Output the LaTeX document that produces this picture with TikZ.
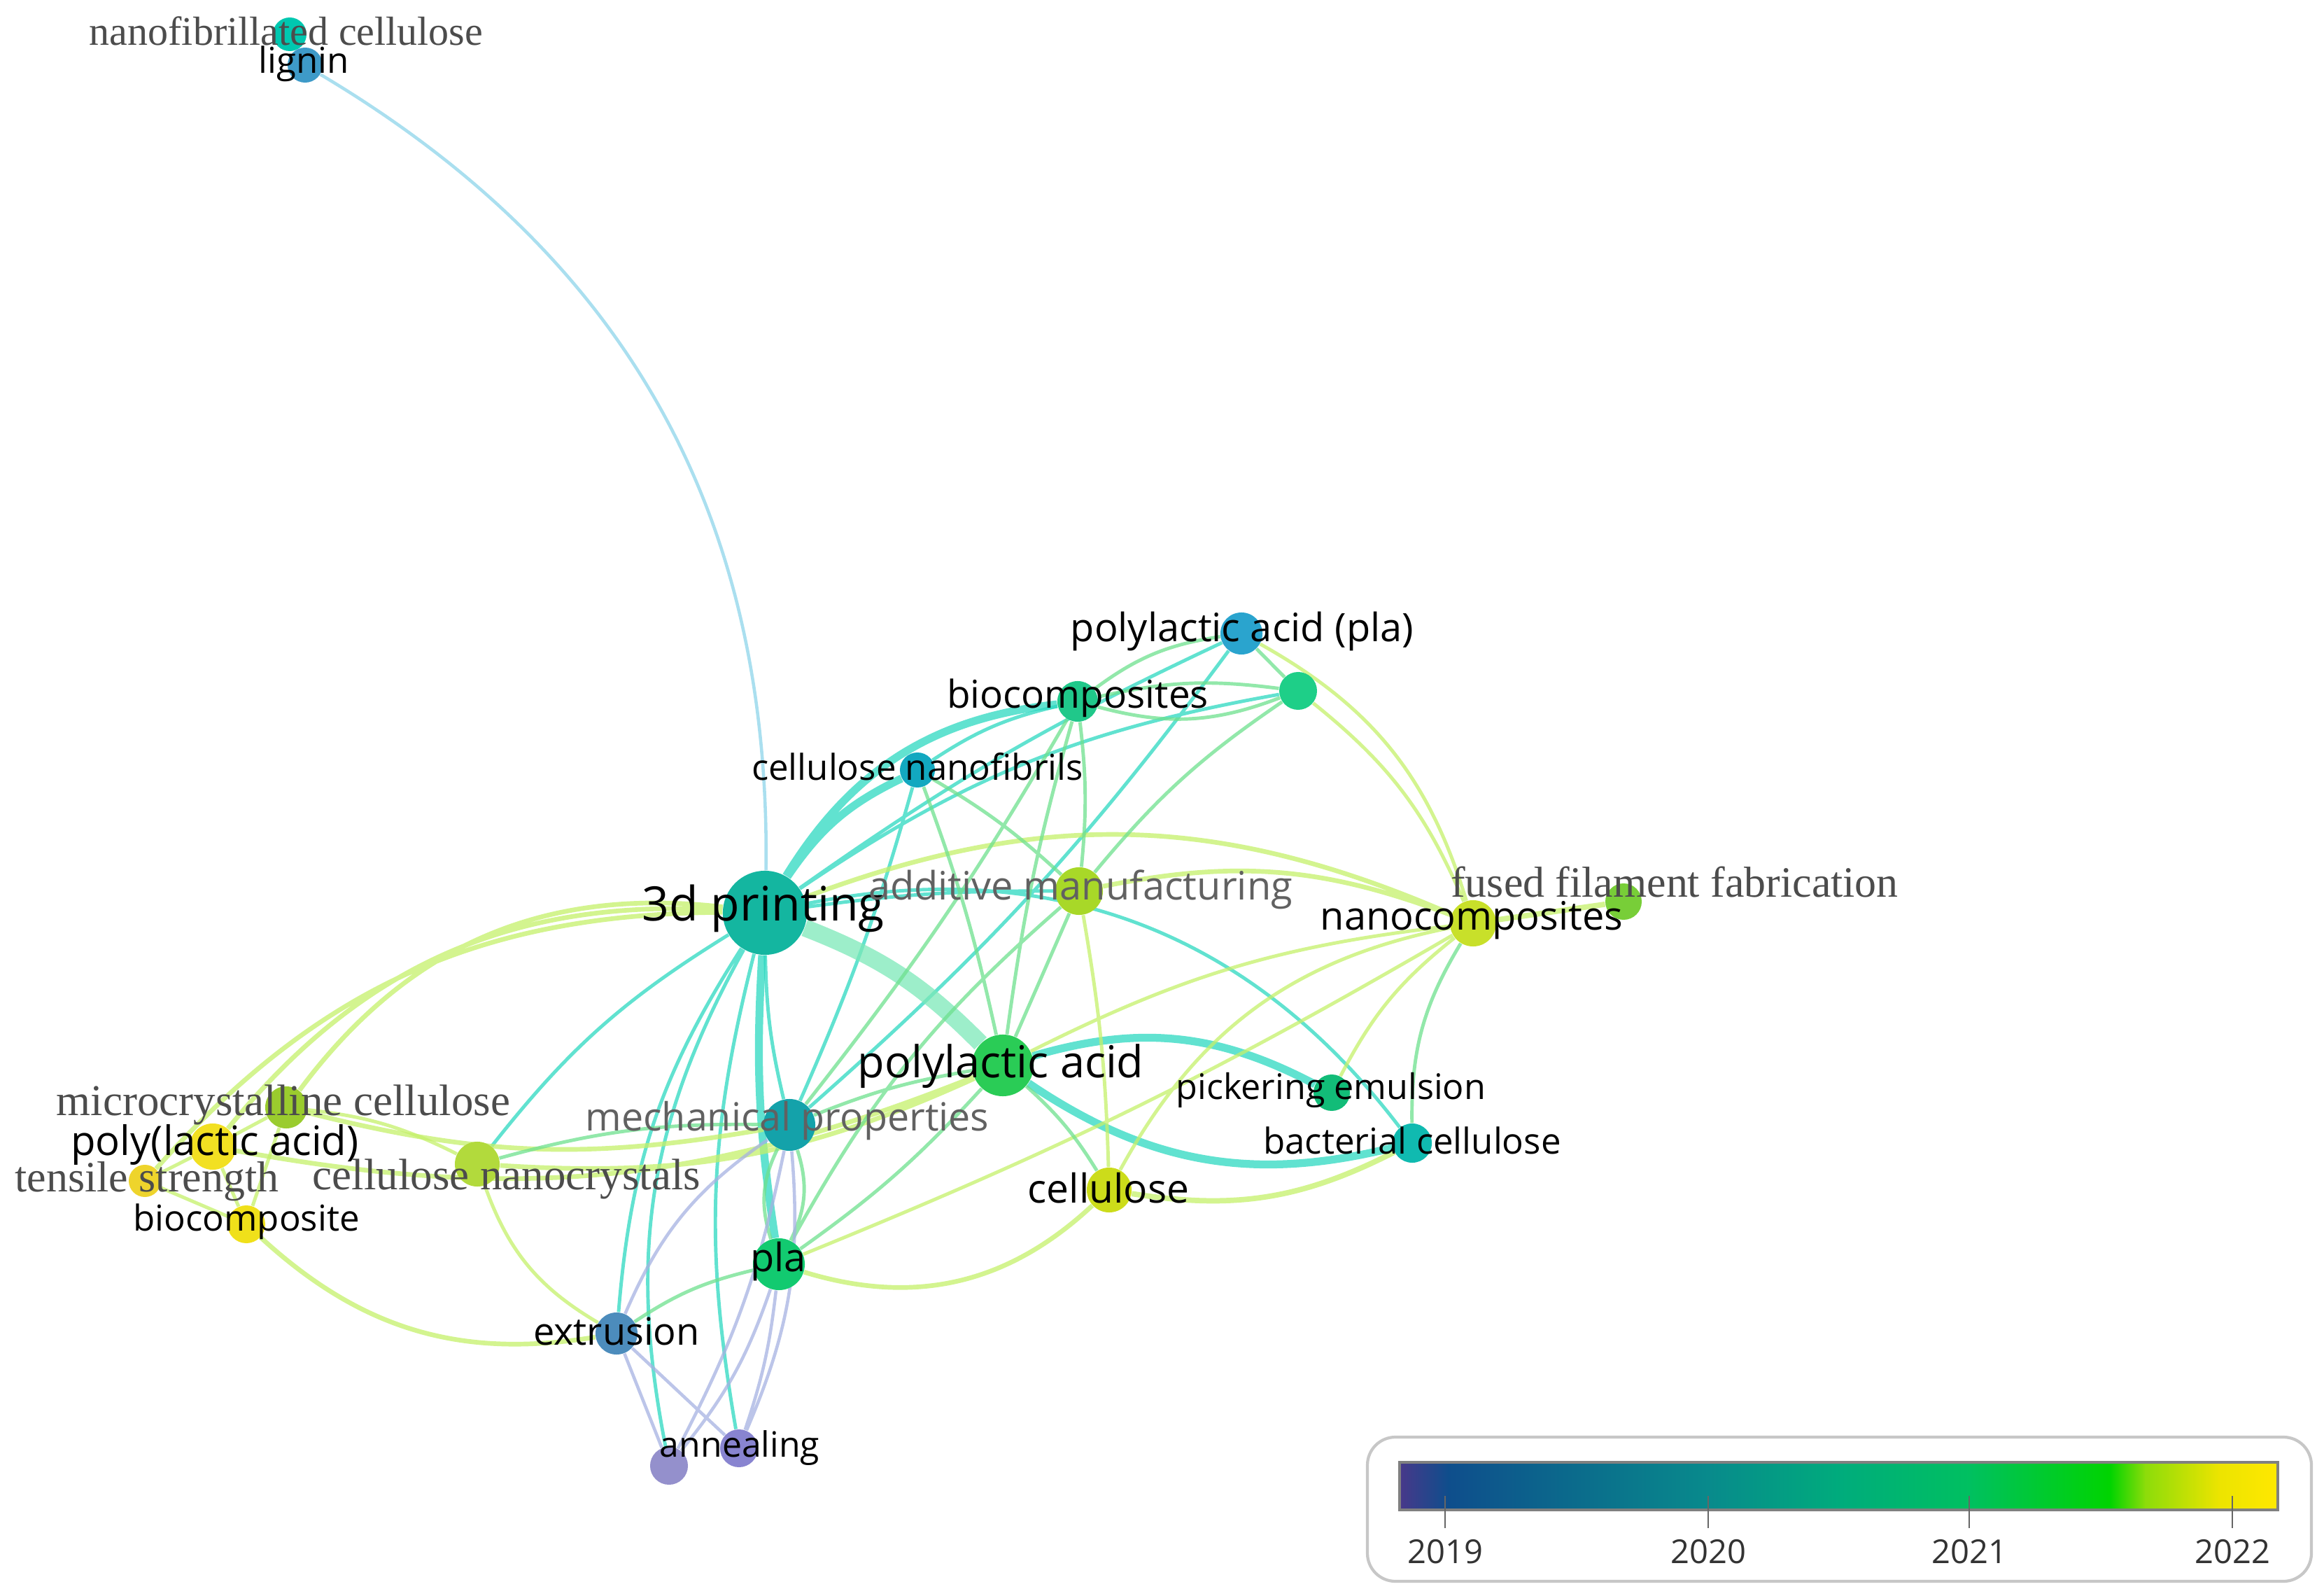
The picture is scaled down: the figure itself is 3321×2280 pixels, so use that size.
\documentclass[tikz,border=0pt]{standalone}
\usepackage{fontspec}
\setmainfont{Open Sans}
\newfontfamily\serifkw{Liberation Serif}
\usetikzlibrary{positioning}
\pgfdeclarelayer{bg}
\pgfsetlayers{bg,main}

% node colours
\definecolor{cNfc}{HTML}{00C8B0}
\definecolor{cLig}{HTML}{3E9AC8}
\definecolor{cPpla}{HTML}{2AA4CE}
\definecolor{cUnk}{HTML}{1ECF88}
\definecolor{cBcs}{HTML}{20C88A}
\definecolor{cCnf}{HTML}{12A8C0}
\definecolor{cTdp}{HTML}{14B6A0}
\definecolor{cAm}{HTML}{A8D828}
\definecolor{cFff}{HTML}{78CE38}
\definecolor{cNc}{HTML}{C8E02A}
\definecolor{cPa}{HTML}{2ACC56}
\definecolor{cPe}{HTML}{12BC78}
\definecolor{cBac}{HTML}{10BAB0}
\definecolor{cMp}{HTML}{14A2AA}
\definecolor{cMcc}{HTML}{9ACC2E}
\definecolor{cPlla}{HTML}{F2E022}
\definecolor{cTs}{HTML}{EED42C}
\definecolor{cCnc}{HTML}{B2DA3C}
\definecolor{cBc}{HTML}{F0E01A}
\definecolor{cCel}{HTML}{CCDC1A}
\definecolor{cPla}{HTML}{12CA70}
\definecolor{cExt}{HTML}{4C8CBC}
\definecolor{cAn}{HTML}{9490CC}
% link colours
\definecolor{eTeal}{HTML}{2CD8C0}
\definecolor{eMint}{HTML}{7CE8B8}
\definecolor{eGreen}{HTML}{6EE08E}
\definecolor{eLime}{HTML}{C4F06A}
\definecolor{eBlue}{HTML}{8ED4EA}
\definecolor{eLav}{HTML}{A6B2E2}

\tikzset{
  kw/.style={circle, inner sep=0pt, minimum size=#1*0.02cm},
  lab/.style={inner sep=0pt, text=black, font=\fontsize{#1}{#1}\selectfont},
  glab/.style={inner sep=0pt, text=black!62, font=\fontsize{#1}{#1}\selectfont},
  slab/.style={inner sep=0pt, text=black!70, font=\serifkw\fontsize{#1}{#1}\selectfont},
  lk/.style={line width=#1, opacity=.75},
}

\begin{document}
\begin{tikzpicture}[x=0.01cm, y=-0.01cm]
\useasboundingbox (0,0) rectangle (3321,2280);

% keywords
\node[kw=24, fill=cNfc] (nfc) at (414,49) {};
\node[kw=25, fill=cLig] (lig) at (436,93) {};
\node[kw=30, fill=cPpla] (ppla) at (1774,905) {};
\node[kw=27, fill=cUnk] (unk) at (1855,987) {};
\node[kw=29, fill=cBcs] (bcs) at (1540,1002) {};
\node[kw=25, fill=cCnf] (cnf) at (1311,1100) {};
\node[kw=60, fill=cTdp] (tdp) at (1093,1304) {};
\node[kw=34, fill=cAm] (am) at (1542,1273) {};
\node[kw=26, fill=cFff] (fff) at (2320,1288) {};
\node[kw=33, fill=cNc] (nc) at (2105,1319) {};
\node[kw=44, fill=cPa] (pa) at (1433,1522) {};
\node[kw=26, fill=cPe] (pe) at (1903,1561) {};
\node[kw=28, fill=cBac] (bac) at (2018,1633) {};
\node[kw=37, fill=cMp] (mp) at (1128,1607) {};
\node[kw=30, fill=cMcc] (mcc) at (409,1582) {};
\node[kw=33, fill=cPlla] (plla) at (304,1638) {};
\node[kw=23, fill=cTs] (ts) at (207,1687) {};
\node[kw=32, fill=cCnc] (cnc) at (682,1663) {};
\node[kw=27, fill=cBc] (bc) at (352,1749) {};
\node[kw=32, fill=cCel] (cel) at (1585,1700) {};
\node[kw=37, fill=cPla] (pla) at (1113,1806) {};
\node[kw=30, fill=cExt] (ext) at (881,1905) {};
\node[kw=27, fill=cAn] (an1) at (956,2094) {};
\node[kw=27, fill=cAn!92!blue] (an2) at (1056,2069) {};

% links
\begin{pgfonlayer}{bg}
\draw[lk=1.3pt, eBlue] (lig) to[bend left=30] (tdp);
\draw[lk=1.4pt, eTeal]
    (tdp) to[bend right=14] (ext)
    (tdp) to[bend right=20] (an1)
    (tdp) to[bend right=12] (an2)
    (tdp) to[bend right=6] (mp)
    (tdp) to[bend left=5] (ppla)
    (tdp) to[bend left=12] (unk)
    (tdp) to[bend left=32] (bac)
    (tdp) to[bend left=4] (am)
    (tdp) to[bend right=10] (cnc)
    (cnf) to[bend left=4] (mp)
    (cnf) to[bend left=10] (bcs)
    (ppla) to[bend left=6] (mp);
\draw[lk=3.2pt, eTeal]
    (tdp) to[bend left=15] (cnf)
    (tdp) to[bend left=26] (bcs)
    (tdp) to[bend right=6] (pla)
    (pa) to[bend left=22] (pe)
    (pa) to[bend right=24] (bac);
\draw[lk=7pt, eMint] (tdp) to[bend left=12] (pa);
\draw[lk=1.9pt, eLime]
    (mcc) to[bend left=30] (tdp)
    (plla) to[bend left=27] (tdp)
    (ts) to[bend left=24] (tdp)
    (tdp) to[bend left=22] (nc)
    (am) to[bend left=16] (nc)
    (pla) to[bend right=30] (cel)
    (bc) to[bend right=26] (ext)
    (cnc) to[bend right=14] (pa)
    (plla) to[bend right=16] (pa)
    (mcc) to[bend right=12] (mp);
\draw[lk=1.4pt, eLime]
    (cel) to[bend left=25] (nc)
    (am) to[bend left=4] (cel)
    (pa) to[bend left=10] (nc)
    (ppla) to[bend left=22] (nc)
    (unk) to[bend left=14] (nc)
    (nc) to[bend right=12] (pe)
    (nc) to[bend left=4] (pla)
    (cnc) to[bend right=20] (ext)
    (plla) -- (ts) (plla) -- (bc) (ts) -- (bc) (mcc) -- (plla) (mcc) -- (bc)
    (mcc) to[bend left=10] (cnc);
\draw[lk=2.2pt, eLime] (nc) -- (fff) (cel) to[bend right=18] (bac);
\draw[lk=1.4pt, eGreen]
    (bcs) to[bend left=10] (unk)
    (bcs) to[bend right=18] (unk)
    (bcs) to[bend left=14] (ppla)
    (ppla) -- (unk)
    (bcs) to[bend left=4] (mp)
    (bcs) to[bend left=6] (am)
    (bcs) to[bend right=4] (pa)
    (unk) to[bend right=8] (am)
    (cnf) to[bend left=6] (am)
    (cnf) to[bend left=4] (pa)
    (am) -- (pa)
    (pa) to[bend right=6] (mp)
    (pa) to[bend left=8] (cel)
    (pa) to[bend left=6] (pla)
    (mp) to[bend right=22] (pla)
    (mp) to[bend left=22] (pla)
    (cnc) to[bend left=8] (mp)
    (nc) to[bend right=16] (bac)
    (ext) to[bend left=10] (pla)
    (am) to[bend right=10] (pla);
\draw[lk=1.3pt, eLav]
    (ext) -- (an1) (ext) -- (an2)
    (mp) to[bend right=16] (ext)
    (mp) to[bend left=8] (an1)
    (mp) to[bend left=14] (an2)
    (pla) to[bend left=10] (an1)
    (pla) to[bend left=6] (an2);
\end{pgfonlayer}

% labels
\node[slab=16.5pt] (tnfc) at (409,44) {nanofibrillated cellulose};
\node[lab=14.5pt] (tlig) at (434,91) {lignin};
\node[lab=15.9pt] (tppla) at (1775,902) {polylactic acid (pla)};
\node[lab=15.6pt] (tbcs) at (1540,997) {biocomposites};
\node[lab=14.5pt] (tcnf) at (1311,1095) {cellulose nanofibrils};
\node[lab=19.3pt] (ttdp) at (1091,1298) {3d printing};
\node[glab=15.9pt] (tam) at (1544,1271) {additive manufacturing};
\node[slab=17.6pt] (tfff) at (2393,1260) {fused filament fabrication};
\node[lab=15.9pt] (tnc) at (2103,1315) {nanocomposites};
\node[lab=17.9pt] (tpa) at (1430,1523) {polylactic acid};
\node[lab=14.3pt] (tpe) at (1902,1557) {pickering emulsion};
\node[lab=14.5pt] (tbac) at (2018,1629) {bacterial cellulose};
\node[glab=15.8pt] (tmp) at (1125,1601) {mechanical properties};
\node[slab=17.9pt] (tmcc) at (405,1578) {microcrystalline cellulose};
\node[lab=16.5pt] (tplla) at (307,1635) {poly(lactic acid)};
\node[slab=17.6pt] (tts) at (210,1688) {tensile strength};
\node[slab=17.9pt] (tcnc) at (724,1684) {cellulose nanocrystals};
\node[lab=14.5pt] (tbc) at (352,1745) {biocomposite};
\node[lab=16.2pt] (tcel) at (1584,1697) {cellulose};
\node[lab=15.9pt] (tpla) at (1112,1802) {pla};
\node[lab=15.4pt] (text) at (881,1902) {extrusion};
\node[lab=14.2pt] (tan) at (1057,2069) {annealing};

% colour scale
\draw[draw=black!22, line width=1.2pt, rounded corners=0.4cm] (1954,2053) rectangle (3303,2259);
\shade[left color={rgb,255:red,72;green,56;blue,138}, right color={rgb,255:red,14;green,78;blue,140}] (2000,2089) rectangle (2071,2157);
\shade[left color={rgb,255:red,14;green,78;blue,140}, right color={rgb,255:red,8;green,138;blue,140}] (2070,2089) rectangle (2441,2157);
\shade[left color={rgb,255:red,8;green,138;blue,140}, right color={rgb,255:red,0;green,172;blue,124}] (2440,2089) rectangle (2631,2157);
\shade[left color={rgb,255:red,0;green,172;blue,124}, right color={rgb,255:red,0;green,192;blue,96}] (2630,2089) rectangle (2815,2157);
\shade[left color={rgb,255:red,0;green,192;blue,96}, right color={rgb,255:red,0;green,212;blue,0}] (2814,2089) rectangle (3016,2157);
\shade[left color={rgb,255:red,0;green,212;blue,0}, right color={rgb,255:red,140;green,220;blue,10}] (3015,2089) rectangle (3066,2157);
\shade[left color={rgb,255:red,140;green,220;blue,10}, right color={rgb,255:red,236;green,228;blue,0}] (3065,2089) rectangle (3171,2157);
\shade[left color={rgb,255:red,236;green,228;blue,0}, right color={rgb,255:red,255;green,232;blue,0}] (3170,2089) rectangle (3255,2157);
\draw[draw=black!50, line width=1.2pt] (2000,2089) rectangle (3255,2157);
\foreach \x/\yr in {2065/2019, 2441/2020, 2814/2021, 3190/2022} {
    \draw[black!60, line width=0.8pt] (\x,2137) -- (\x,2183);
    \node[lab=13.4pt, text=black!80] (yr\yr) at (\x,2217) {\yr};
}
\end{tikzpicture}
\end{document}
